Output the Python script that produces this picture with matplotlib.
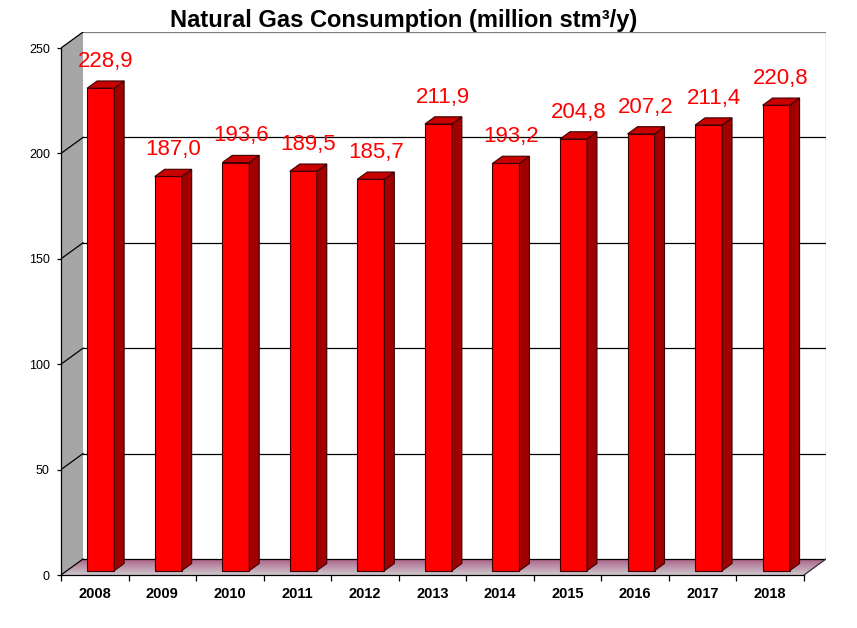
import numpy as np
import matplotlib
matplotlib.use("Agg")
import matplotlib.pyplot as plt
from matplotlib.patches import Polygon

plt.rcParams['font.family'] = ['Liberation Sans', 'DejaVu Sans']

years = ['2008', '2009', '2010', '2011', '2012', '2013', '2014', '2015', '2016', '2017', '2018']
values = [228.9, 187.0, 193.6, 189.5, 185.7, 211.9, 193.2, 204.8, 207.2, 211.4, 220.8]
labels = ['228,9', '187,0', '193,6', '189,5', '185,7', '211,9', '193,2', '204,8', '207,2', '211,4', '220,8']
yticks = [0, 50, 100, 150, 200, 250]

# depth of the fake 3d box, in data units
DX = 0.326
DY = 7.6
# bar placement inside the depth
F0 = 0.27
FD = 0.45
BW = 0.4

W, H = 857, 628
fig = plt.figure(figsize=(W / 100, H / 100), dpi=100)
ax = fig.add_axes([61 / W, 1 - 575 / H, (826 - 61) / W, (575 - 32) / H])
n = len(years)
x = np.arange(n)
ax.set_xlim(-0.5, n - 0.5 + DX)
ax.set_ylim(0, yticks[-1] + DY)

# left wall
ax.add_patch(Polygon([(-0.5, 0), (-0.5, yticks[-1]), (-0.5 + DX, yticks[-1] + DY), (-0.5 + DX, DY)],
                     closed=True, facecolor='#a6a6a6', edgecolor='none', zorder=1))

# floor with gradient
floor = Polygon([(-0.5, 0), (n - 0.5, 0), (n - 0.5 + DX, DY), (-0.5 + DX, DY)],
                closed=True, facecolor='none', edgecolor='none')
ax.add_patch(floor)
c_back = np.array([172, 92, 132]) / 255
c_front = np.array([205, 200, 205]) / 255
t = np.linspace(0, 1, 64)[:, None]
grad = (c_back[None, :] * (1 - t) + c_front[None, :] * t)[:, None, :]
im = ax.imshow(grad, extent=(-0.5, n - 0.5 + DX, 0, DY), aspect='auto', zorder=1, interpolation='bilinear')
im.set_clip_path(floor)
ax.plot([n - 0.5, n - 0.5 + DX], [0, DY], color='#303030', lw=0.9, zorder=2)

# back wall grid lines and left wall diagonals
for v in yticks:
    col = 'black' if v < yticks[-1] else '#808080'
    ax.plot([-0.5 + DX, n - 0.5 + DX], [v + DY, v + DY], color=col, lw=0.9, zorder=1.5)
    ax.plot([-0.5, -0.5 + DX], [v, v + DY], color='black', lw=0.9, zorder=1.5)
ax.plot([n - 0.5 + DX, n - 0.5 + DX], [DY, yticks[-1] + DY], color='#808080', lw=0.9, zorder=1.5)

# bars
ec = '#3a0000'
for i, v in enumerate(values):
    x0 = x[i] - BW / 2 + F0 * DX
    x1 = x0 + BW
    b = F0 * DY
    ddx, ddy = FD * DX, FD * DY
    ax.bar(x0 + BW / 2, v, width=BW, bottom=b, color='#ff0000', edgecolor=ec, lw=0.8, zorder=3)
    ax.add_patch(Polygon([(x1, b), (x1 + ddx, b + ddy), (x1 + ddx, b + v + ddy), (x1, b + v)],
                         closed=True, facecolor='#a00000', edgecolor=ec, lw=0.8, zorder=3))
    ax.add_patch(Polygon([(x0, b + v), (x1, b + v), (x1 + ddx, b + v + ddy), (x0 + ddx, b + v + ddy)],
                         closed=True, facecolor='#c80000', edgecolor=ec, lw=0.8, zorder=3))
    ax.text(x[i] + (F0 + FD / 2) * DX, v + b + ddy + 6.6, labels[i], color='#ff0000',
            fontsize=16, ha='center', va='baseline', zorder=4)

# axes
for s in ['top', 'right']:
    ax.spines[s].set_visible(False)
ax.spines['left'].set_bounds(0, yticks[-1])
ax.spines['bottom'].set_bounds(-0.5, n - 0.5)
ax.spines['left'].set_linewidth(0.9)
ax.spines['bottom'].set_linewidth(0.9)
ax.set_yticks(yticks)
ax.set_yticklabels([str(v) for v in yticks], fontsize=9)
ax.tick_params(axis='y', length=3, pad=5, width=0.9)
ax.set_xticks(x)
ax.set_xticklabels(years, fontsize=10.5, fontweight='bold')
ax.set_xticks(np.arange(-0.5, n, 1), minor=True)
ax.tick_params(axis='x', which='major', length=0, pad=9)
ax.tick_params(axis='x', which='minor', length=4, width=0.9)

fig.text(404 / W, 1 - 27 / H, 'Natural Gas Consumption (million stm³/y)', ha='center', va='baseline',
         fontsize=17, fontweight='bold')

fig.savefig('out.png', dpi=100)
